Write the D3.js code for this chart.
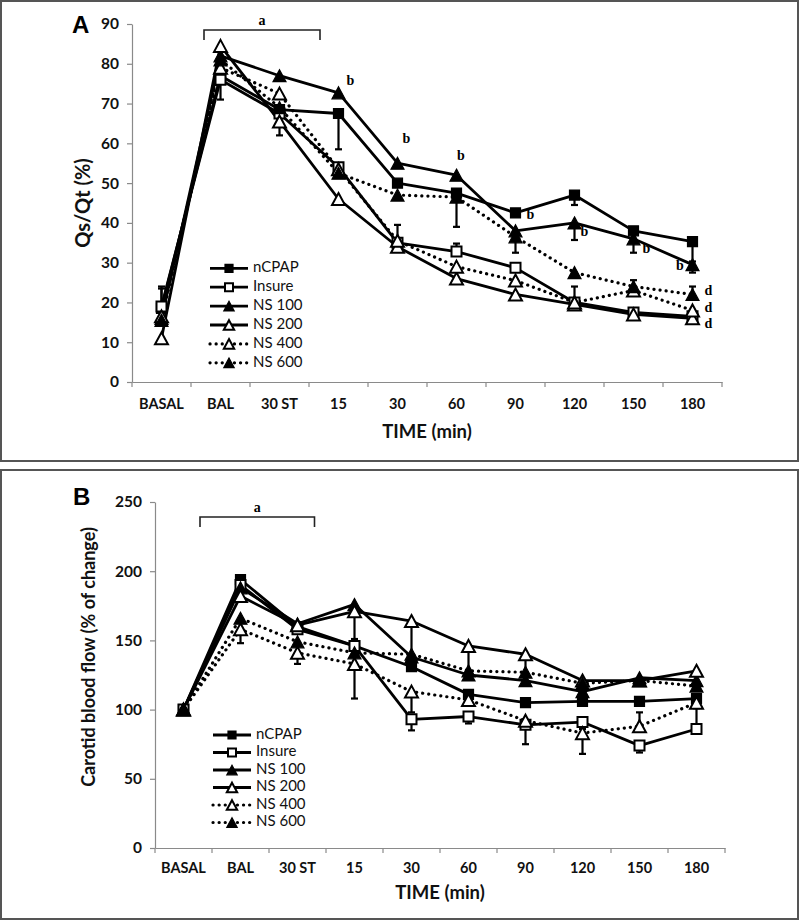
<!DOCTYPE html>
<html>
<head>
<meta charset="utf-8">
<script src="https://cdn.jsdelivr.net/npm/d3@7"></script>
<style>
  html, body { margin: 0; padding: 0; background: #fff; }
  svg { display: block; }
</style>
</head>
<body>
<svg id="chart" width="800" height="921"></svg>
<script>
// ---------------- DATA ----------------
const categories = ["BASAL", "BAL", "30 ST", "15", "30", "60", "90", "120", "150", "180"];
const seriesNames = ["nCPAP", "Insure", "NS 100", "NS 200", "NS 400", "NS 600"];

// Panel A: Qs/Qt (%)
const qsTicks = [0, 10, 20, 30, 40, 50, 60, 70, 80, 90];
const qs_nCPAP  = [18.5, 77, 68.5, 67.5, 50, 47.5, 42.5, 47, 38, 35.3];
const qs_Insure = [19, 76, 67.5, 54, 35, 32.8, 28.7, 20, 17.5, 16.5];
const qs_NS100  = [16, 82, 77, 72.7, 55, 52, 38, 40, 36, 29.5];
const qs_NS200  = [11, 84.5, 65.5, 46, 34, 26, 22, 19.5, 17, 16];
const qs_NS400  = [16.5, 79, 72.5, 53.5, 35.5, 29, 25.5, 20, 23, 18];
const qs_NS600  = [15.5, 81, 69, 52.5, 47, 46.5, 36.5, 27.5, 24, 22];
// error bars (positive = drawn upward, negative = drawn downward, 0 = none)
const qsErr_nCPAP  = [5, 0, 0, -9, 0, -8.5, 0, -2.5, 0, -5];
const qsErr_Insure = [5, -5, 0, 0, 0, 2, 0, 0, 0, 0];
const qsErr_NS100  = [0, 0, 0, 0, 0, 0, 0, -4.3, -3.5, -2];
const qsErr_NS200  = [0, 0, -3.5, 0, 0, 0, 0, 0, 0, 0];
const qsErr_NS400  = [0, 0, 0, 0, 4, 0, 0, 4, 0, 0];
const qsErr_NS600  = [0, 0, 0, 0, 0, 0, -4, 0, 1.6, 2];

// Panel B: Carotid blood flow (% of change)
const cbfTicks = [0, 50, 100, 150, 200, 250];
const cbf_nCPAP  = [100, 194, 160, 146, 131, 111, 105, 106, 106, 108];
const cbf_Insure = [100, 190, 158, 146, 93, 95, 89, 91, 74, 86];
const cbf_NS100  = [100, 188, 162, 176, 138, 125, 121, 113, 123, 121];
const cbf_NS200  = [100, 182, 161, 171, 164, 146, 140, 121, 121, 128];
const cbf_NS400  = [100, 158, 141, 133, 113, 107, 92, 83, 88, 105];
const cbf_NS600  = [100, 166, 149, 141, 140, 128, 127, 119, 121, 117];
const cbfErr_nCPAP  = [0, 0, 0, 0, 0, 0, 0, 0, 0, 0];
const cbfErr_Insure = [0, 0, 0, 0, -8, -5, 0, -5, -5, 15];
const cbfErr_NS100  = [0, 0, 0, 0, 0, 0, 0, 0, 0, 0];
const cbfErr_NS200  = [0, 0, 0, -20, -30, -18, -15, 0, 0, 0];
const cbfErr_NS400  = [0, -10, -8, -25, -15, 0, -17, -15, 10, 0];
const cbfErr_NS600  = [0, 0, 0, 0, 0, 0, 0, 0, 0, 0];

// Significance annotations (label, category, value, horizontal shift)
const notesA = [
  ["b", "15", 75.4, 12], ["b", "30", 60.8, 9], ["b", "60", 56.5, 4.5],
  ["b", "90", 41.8, 15], ["b", "120", 37.6, 10], ["b", "150", 33.3, 13],
  ["b", "180", 29, -12.5], ["d", "180", 22.7, 16], ["d", "180", 18.5, 16], ["d", "180", 14.5, 16]
];

// ---------------- STYLE ----------------
const seriesStyle = [
  { marker: "square",   fill: "#000", dotted: false },
  { marker: "square",   fill: "#fff", dotted: false },
  { marker: "triangle", fill: "#000", dotted: false },
  { marker: "triangle", fill: "#fff", dotted: false },
  { marker: "triangle", fill: "#fff", dotted: true },
  { marker: "triangle", fill: "#000", dotted: true }
];

const svg = d3.select("#chart");
const SANS = "Lato, 'Open Sans', 'Liberation Sans', sans-serif";
const SERIF = "'Liberation Serif', 'DejaVu Serif', serif";
const AXIS_GREY = "#8a8a8a";

// panel frames
svg.append("rect").attr("x", 1).attr("y", 1).attr("width", 797).attr("height", 460)
  .attr("fill", "none").attr("stroke", "#555").attr("stroke-width", 2);
svg.append("rect").attr("x", 1).attr("y", 470).attr("width", 797).attr("height", 449)
  .attr("fill", "none").attr("stroke", "#555").attr("stroke-width", 2);

function markerPath(type, s) {
  if (type === "square") {
    const h = s / 2;
    return `M${-h},${-h}H${h}V${h}H${-h}Z`;
  }
  const w = s * 1.08, h = s;
  return `M0,${-h / 2}L${w / 2},${h / 2}L${-w / 2},${h / 2}Z`;
}

function drawMarker(g, x, y, st, size) {
  const sz = st.marker === "square" ? size : size * 1.2;
  g.append("path")
    .attr("d", markerPath(st.marker, sz))
    .attr("transform", `translate(${x},${y})`)
    .attr("fill", st.fill)
    .attr("stroke", "#000")
    .attr("stroke-width", st.fill === "#fff" ? 2 : 1.2)
    .attr("stroke-linejoin", "miter");
}

function drawPanel(cfg) {
  const g = svg.append("g");
  const x = d3.scaleBand().domain(categories).range([cfg.left, cfg.right]).padding(0);
  const y = d3.scaleLinear().domain([cfg.ticks[0], cfg.ticks[cfg.ticks.length - 1]]).range([cfg.bottom, cfg.top]);
  const cx = c => x(c) + x.bandwidth() / 2;

  // Y axis
  const ya = g.append("g").attr("transform", `translate(${cfg.left},0)`)
    .call(d3.axisLeft(y).tickValues(cfg.ticks).tickSize(5).tickPadding(8).tickSizeOuter(0));
  ya.select(".domain").attr("stroke", AXIS_GREY).attr("stroke-width", 1.2);
  ya.selectAll(".tick line").attr("stroke", AXIS_GREY).attr("stroke-width", 1.2);
  ya.selectAll(".tick text").attr("font-family", SANS).attr("font-weight", "bold")
    .attr("font-size", "15.5px").attr("fill", "#111");

  // X axis
  const xa = g.append("g").attr("transform", `translate(0,${cfg.bottom})`)
    .call(d3.axisBottom(x).tickSize(0).tickPadding(cfg.xPad).tickSizeOuter(0));
  xa.select(".domain").attr("stroke", AXIS_GREY).attr("stroke-width", 1.2);
  xa.selectAll(".tick text").attr("font-family", SANS).attr("font-weight", "bold")
    .attr("font-size", "14.5px").attr("fill", "#111");
  const bounds = categories.map(c => x(c)).concat([cfg.right]);
  g.selectAll(".xb").data(bounds).enter().append("line")
    .attr("x1", d => d).attr("x2", d => d)
    .attr("y1", cfg.bottom).attr("y2", cfg.bottom + 5)
    .attr("stroke", AXIS_GREY).attr("stroke-width", 1.2);

  // axis titles
  g.append("text").attr("x", (cfg.left + cfg.right) / 2).attr("y", cfg.titleY)
    .attr("text-anchor", "middle").attr("font-family", SANS).attr("font-weight", "bold")
    .attr("font-size", "18.5px").attr("fill", "#111").text("TIME (min)");
  g.append("text")
    .attr("transform", `translate(${cfg.yTitleX},${cfg.yTitleY}) rotate(-90)`)
    .attr("text-anchor", "middle").attr("dominant-baseline", "middle")
    .attr("font-family", SANS).attr("font-weight", "bold")
    .attr("font-size", cfg.yTitleSize).attr("fill", "#111").text(cfg.yTitle);

  // panel letter
  g.append("text").attr("x", cfg.letterX).attr("y", cfg.letterY)
    .attr("font-family", "'Liberation Sans', Arial, sans-serif").attr("font-weight", "bold")
    .attr("font-size", "24px").attr("fill", "#000").text(cfg.letter);

  // bracket "a"
  const bl = cx("BAL") + cfg.brL, br = cx("30 ST") + cfg.brR;
  g.append("path")
    .attr("d", `M${bl},${cfg.brY + 10}V${cfg.brY}H${br}V${cfg.brY + 10}`)
    .attr("fill", "none").attr("stroke", "#222").attr("stroke-width", 1.6);
  g.append("text").attr("x", (bl + br) / 2).attr("y", cfg.brY - 5)
    .attr("text-anchor", "middle").attr("font-family", SERIF).attr("font-weight", "bold")
    .attr("font-size", "14px").text("a");

  // series lines and error bars
  cfg.series.forEach((vals, si) => {
    const st = seriesStyle[si];
    const errs = cfg.errors[si];
    const line = d3.line().x((d, i) => cx(categories[i])).y(d => y(d));
    const p = g.append("path").datum(vals).attr("d", line)
      .attr("fill", "none").attr("stroke", "#000")
      .attr("stroke-width", st.dotted ? 3.2 : 2.8)
      .attr("stroke-linejoin", "round");
    if (st.dotted) p.attr("stroke-dasharray", "0.1 6").attr("stroke-linecap", "round");

    vals.forEach((v, i) => {
      if (!errs[i]) return;
      const xx = cx(categories[i]);
      const y1 = y(v), y2 = y(v + errs[i]);
      g.append("line").attr("x1", xx).attr("x2", xx).attr("y1", y1).attr("y2", y2)
        .attr("stroke", "#000").attr("stroke-width", 2.2);
      g.append("line").attr("x1", xx - 3.5).attr("x2", xx + 3.5)
        .attr("y1", y2).attr("y2", y2).attr("stroke", "#000").attr("stroke-width", 2.2);
    });
  });
  // markers on top
  cfg.series.forEach((vals, si) => {
    const st = seriesStyle[si];
    vals.forEach((v, i) => drawMarker(g, cx(categories[i]), y(v), st, 10));
  });

  // notes
  (cfg.notes || []).forEach(n => {
    g.append("text").attr("x", cx(n[1]) + n[3]).attr("y", y(n[2]))
      .attr("text-anchor", "middle").attr("dominant-baseline", "middle")
      .attr("font-family", SERIF).attr("font-weight", "bold").attr("font-size", "14px")
      .text(n[0]);
  });

  // legend
  const lg = g.append("g");
  seriesNames.forEach((name, i) => {
    const st = seriesStyle[i];
    const yy = cfg.legY + i * cfg.legStep;
    const l = lg.append("line").attr("x1", cfg.legX).attr("x2", cfg.legX + 38)
      .attr("y1", yy).attr("y2", yy).attr("stroke", "#000")
      .attr("stroke-width", st.dotted ? 3.2 : 2.8);
    if (st.dotted) l.attr("stroke-dasharray", "0.1 6").attr("stroke-linecap", "round");
    drawMarker(lg, cfg.legX + 19, yy, st, 8);
    lg.append("text").attr("x", cfg.legX + 43).attr("y", yy)
      .attr("dominant-baseline", "middle").attr("font-family", SANS)
      .attr("font-size", "15px").attr("fill", "#111").text(name);
  });
}

drawPanel({
  left: 132, right: 722, top: 24, bottom: 382,
  ticks: qsTicks,
  series: [qs_nCPAP, qs_Insure, qs_NS100, qs_NS200, qs_NS400, qs_NS600],
  errors: [qsErr_nCPAP, qsErr_Insure, qsErr_NS100, qsErr_NS200, qsErr_NS400, qsErr_NS600],
  xPad: 17, titleY: 438,
  yTitle: "Qs/Qt (%)", yTitleX: 85, yTitleY: 203, yTitleSize: "20px",
  letter: "A", letterX: 72, letterY: 33,
  brL: -16.5, brR: 40.5, brY: 30,
  notes: notesA,
  legX: 210, legY: 268.3, legStep: 18.9
});

drawPanel({
  left: 155, right: 725, top: 502, bottom: 848,
  ticks: cbfTicks,
  series: [cbf_nCPAP, cbf_Insure, cbf_NS100, cbf_NS200, cbf_NS400, cbf_NS600],
  errors: [cbfErr_nCPAP, cbfErr_Insure, cbfErr_NS100, cbfErr_NS200, cbfErr_NS400, cbfErr_NS600],
  xPad: 15, titleY: 899,
  yTitle: "Carotid blood flow (% of change)", yTitleX: 90, yTitleY: 657, yTitleSize: "18px",
  letter: "B", letterX: 73, letterY: 505,
  brL: -40.5, brR: 17, brY: 517,
  notes: [],
  legX: 213, legY: 735, legStep: 17.5
});
</script>
</body>
</html>
